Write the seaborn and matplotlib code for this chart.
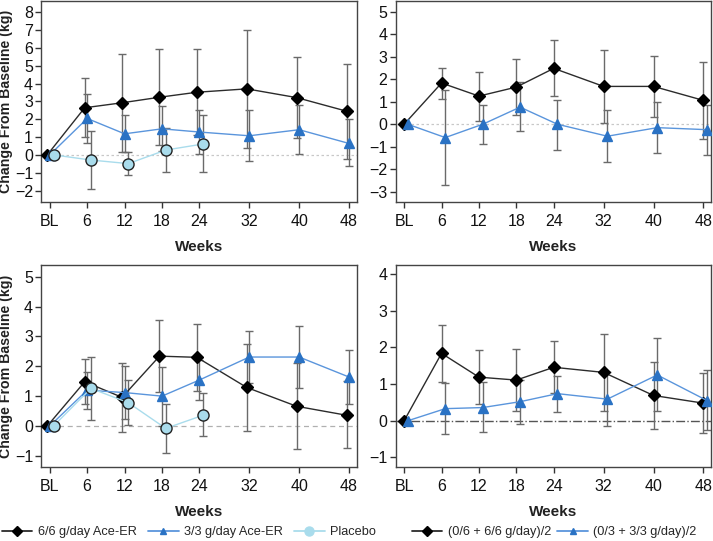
import matplotlib
matplotlib.use("Agg")
import matplotlib.pyplot as plt
from matplotlib.lines import Line2D
import numpy as np
import pandas as pd
import seaborn as sns

# x positions (weeks) and tick labels
weeks = [0, 6, 12, 18, 24, 32, 40, 48]
tick_labels = ["BL", "6", "12", "18", "24", "32", "40", "48"]
weeks_pbo = [0, 6, 12, 18, 24]

# top left: means, lower and upper error bar ends
tl_66 = [0, 2.64, 2.92, 3.23, 3.51, 3.70, 3.21, 2.45]
tl_66_lo = [0, 0.98, 0.18, 0.53, 1.09, 0.39, 0.93, -0.21]
tl_66_hi = [0, 4.33, 5.67, 5.93, 5.93, 7.01, 5.49, 5.11]
tl_33 = [0, 2.04, 1.18, 1.46, 1.28, 1.07, 1.41, 0.64]
tl_33_lo = [0, 0.68, 0.15, 0.19, 0.05, -0.36, 0.05, -0.65]
tl_33_hi = [0, 3.40, 2.21, 2.73, 2.51, 2.50, 2.77, 1.99]
tl_pbo = [0, -0.29, -0.49, 0.27, 0.61]
tl_pbo_lo = [0, -1.89, -1.12, -0.97, -0.97]
tl_pbo_hi = [0, 1.35, 0.18, 1.50, 2.21]

# top right
tr_66 = [0, 1.83, 1.25, 1.65, 2.48, 1.68, 1.68, 1.06]
tr_66_lo = [0, 1.10, 0.16, 0.40, 1.24, 0.06, 0.31, -0.64]
tr_66_hi = [0, 2.51, 2.34, 2.90, 3.72, 3.30, 3.05, 2.76]
tr_33 = [0, -0.59, 0.0, 0.76, 0.0, -0.53, -0.15, -0.24]
tr_33_lo = [0, -2.68, -0.89, -0.30, -1.13, -1.67, -1.26, -1.35]
tr_33_hi = [0, 1.53, 0.87, 1.87, 1.09, 0.65, 0.99, 0.84]

# bottom left
bl_66 = [0, 1.48, 0.96, 2.34, 2.30, 1.29, 0.66, 0.36]
bl_66_lo = [0, 0.72, -0.20, 1.14, 1.18, -0.16, -0.77, -0.74]
bl_66_hi = [0, 2.24, 2.12, 3.54, 3.42, 2.76, 2.12, 1.50]
bl_33 = [0, 1.20, 1.12, 1.00, 1.54, 2.31, 2.31, 1.64]
bl_33_lo = [0, 0.58, 0.24, 0.01, 0.87, 1.44, 1.28, 0.75]
bl_33_hi = [0, 1.82, 2.02, 1.99, 2.21, 3.18, 3.36, 2.53]
bl_pbo = [0, 1.26, 0.78, -0.08, 0.36]
bl_pbo_lo = [0, 0.20, 0.03, -0.92, -0.33]
bl_pbo_hi = [0, 2.32, 1.53, 0.75, 1.09]

# bottom right
br_66 = [0, 1.84, 1.19, 1.11, 1.46, 1.32, 0.69, 0.48]
br_66_lo = [0, 1.07, 0.45, 0.27, 0.75, 0.26, -0.23, -0.33]
br_66_hi = [0, 2.61, 1.92, 1.95, 2.17, 2.38, 1.61, 1.29]
br_33 = [0, 0.33, 0.36, 0.52, 0.74, 0.59, 1.25, 0.55]
br_33_lo = [0, -0.35, -0.32, -0.08, 0.25, -0.14, 0.27, -0.25]
br_33_hi = [0, 1.02, 1.05, 1.12, 1.23, 1.32, 2.26, 1.38]

sns.set_style("ticks")
plt.rcParams["font.family"] = ["Liberation Sans", "DejaVu Sans"]

BLACK = "#000000"
BLACK_LINE = "#2b2b2b"
BLUE = "#2a72c4"
BLUE_LINE = "#5a95dc"
CYAN = "#a9dcec"
CYAN_LINE = "#a9dcec"
ERR = "#6a6a6a"

fig = plt.figure(figsize=(7.13, 5.41), dpi=100)
ax_tl = fig.add_axes([0.058, 0.627, 0.442, 0.372])
ax_tr = fig.add_axes([0.555, 0.627, 0.442, 0.372])
ax_bl = fig.add_axes([0.058, 0.137, 0.442, 0.373])
ax_br = fig.add_axes([0.555, 0.137, 0.442, 0.373])

styles = {
    "66": dict(marker="D", color=BLACK_LINE, mfc=BLACK, mec=BLACK, ms=6.5),
    "33": dict(marker="^", color=BLUE_LINE, mfc=BLUE, mec=BLUE, ms=6.5),
    "pbo": dict(marker="o", color=CYAN_LINE, mfc=CYAN, mec="#222222", ms=8),
}


def draw(ax, x, y, lo, hi, key, shift):
    xs = np.array(x, dtype=float) + shift
    y = np.array(y)
    err = np.vstack([y - np.array(lo), np.array(hi) - y])
    mask = np.array(x) > 0
    ax.errorbar(xs[mask], y[mask], yerr=err[:, mask], fmt="none",
                ecolor=ERR, elinewidth=1.0, capsize=3, capthick=1.0, zorder=2)
    st = styles[key]
    df = pd.DataFrame({"week": xs, "value": y})
    sns.lineplot(data=df, x="week", y="value", ax=ax, color=st["color"],
                 marker=st["marker"], markersize=st["ms"],
                 markerfacecolor=st["mfc"], markeredgecolor=st["mec"],
                 markeredgewidth=1.0, linewidth=1.0, zorder=3, legend=False)


draw(ax_tl, weeks, tl_66, tl_66_lo, tl_66_hi, "66", -0.4)
draw(ax_tl, weeks, tl_33, tl_33_lo, tl_33_hi, "33", 0.0)
draw(ax_tl, weeks_pbo, tl_pbo, tl_pbo_lo, tl_pbo_hi, "pbo", 0.6)

draw(ax_tr, weeks, tr_66, tr_66_lo, tr_66_hi, "66", 0.0)
draw(ax_tr, weeks, tr_33, tr_33_lo, tr_33_hi, "33", 0.6)

draw(ax_bl, weeks, bl_66, bl_66_lo, bl_66_hi, "66", -0.4)
draw(ax_bl, weeks, bl_33, bl_33_lo, bl_33_hi, "33", 0.0)
draw(ax_bl, weeks_pbo, bl_pbo, bl_pbo_lo, bl_pbo_hi, "pbo", 0.6)

draw(ax_br, weeks, br_66, br_66_lo, br_66_hi, "66", 0.0)
draw(ax_br, weeks, br_33, br_33_lo, br_33_hi, "33", 0.6)

# zero lines
ax_tl.axhline(0, color="#c8c8c8", lw=0.9, ls=(0, (2, 2)), zorder=1)
ax_tr.axhline(0, color="#c8c8c8", lw=0.9, ls=(0, (2, 2)), zorder=1)
ax_bl.axhline(0, color="#b0b0b0", lw=0.9, ls=(0, (4, 3)), zorder=1)
ax_br.axhline(0, color="#555555", lw=1.0, ls="-.", zorder=1)

ylims = {ax_tl: (-2.63, 8.65, range(-2, 9)),
         ax_tr: (-3.44, 5.49, range(-3, 6)),
         ax_bl: (-1.37, 5.39, range(-1, 6)),
         ax_br: (-1.26, 4.25, range(-1, 5))}

for ax, (lo, hi, ticks) in ylims.items():
    ax.set_xlim(-1.35, 49.2)
    ax.set_ylim(lo, hi)
    ax.set_xticks(weeks)
    ax.set_xticklabels(tick_labels)
    ax.set_yticks(list(ticks))
    ax.tick_params(axis="both", labelsize=11.5, length=4, width=1.0,
                   color="#333333", labelcolor="#111111", pad=2)
    ax.tick_params(axis="x", pad=5)
    for sp in ax.spines.values():
        sp.set_visible(True)
        sp.set_color("#444444")
        sp.set_linewidth(1.0)
    ax.set_xlabel("Weeks", fontsize=11, fontweight="bold", labelpad=8,
                  color="#222222")
    ax.set_ylabel("")

for ax in (ax_tl, ax_bl):
    ax.set_ylabel("Change From Baseline (kg)", fontsize=10.2,
                  fontweight="bold", labelpad=1, color="#222222")

# legends
def handle(key, label):
    st = styles[key]
    return Line2D([], [], color=st["color"], marker=st["marker"],
                  markersize=st["ms"] - 1.5, markerfacecolor=st["mfc"],
                  markeredgecolor=st["mfc"], lw=1.3, label=label)

left_h = [handle("66", "6/6 g/day Ace-ER"), handle("33", "3/3 g/day Ace-ER"),
          handle("pbo", "Placebo")]
right_h = [handle("66", "(0/6 + 6/6 g/day)/2"),
           handle("33", "(0/3 + 3/3 g/day)/2")]

fig.legend(handles=left_h, loc="center left", bbox_to_anchor=(-0.01, 0.016),
           ncol=3, frameon=False, fontsize=9.2, handlelength=2.4,
           handletextpad=0.4, columnspacing=0.9, borderpad=0.2)
fig.legend(handles=right_h, loc="center left", bbox_to_anchor=(0.565, 0.016),
           ncol=2, frameon=False, fontsize=9.2, handlelength=2.4,
           handletextpad=0.4, columnspacing=0.5, borderpad=0.2)

fig.savefig("out.png", dpi=100)
